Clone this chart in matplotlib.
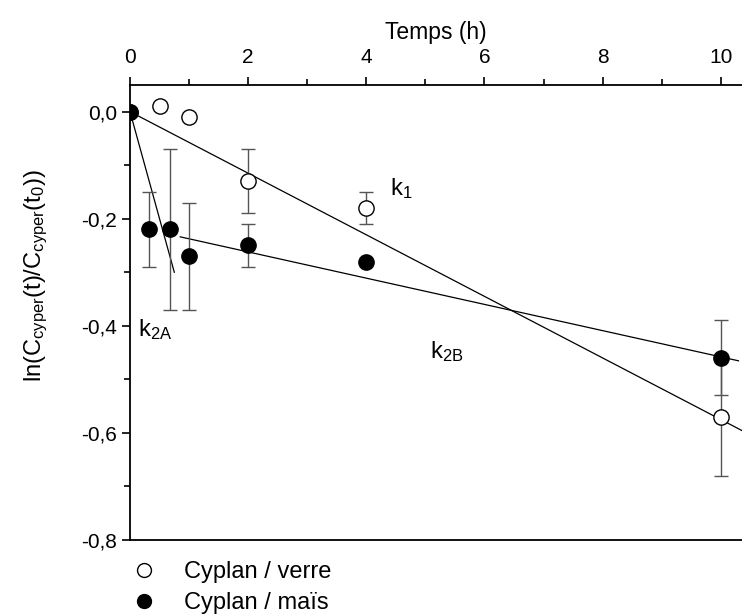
import numpy as np
import matplotlib.pyplot as plt
from matplotlib.lines import Line2D

plt.rcParams['font.family'] = ['Liberation Sans', 'DejaVu Sans']
plt.rcParams['mathtext.default'] = 'regular'

# Cyplan / verre
t_verre = [0, 0.5, 1, 2, 4, 10]
y_verre = [0.0, 0.01, -0.01, -0.13, -0.18, -0.57]
err_verre = [0, 0, 0, 0.06, 0.03, 0.11]

# Cyplan / maïs
t_mais = [0, 0.33, 0.67, 1, 2, 4, 10]
y_mais = [0.0, -0.22, -0.22, -0.27, -0.25, -0.28, -0.46]
err_mais = [0, 0.07, 0.15, 0.10, 0.04, 0, 0.07]

# droites ajustées : (pente, ordonnée, x début, x fin)
k1 = (-0.0575, 0.0, 0.0, 10.4)
k2a = (-0.40, 0.0, 0.0, 0.75)
k2b = (-0.0245, -0.213, 0.85, 10.3)

fig = plt.figure(figsize=(7.42, 6.15), dpi=100)
ax = fig.add_axes([0.1752, 0.122, 0.8248, 0.74])

for a, b, x0, x1 in [k1, k2a, k2b]:
    xx = np.array([x0, x1])
    ax.plot(xx, a * xx + b, color='black', lw=0.9)

ax.errorbar(t_verre, y_verre, yerr=err_verre, fmt='o', ms=11, mfc='white',
            mec='black', mew=1.0, ecolor='#555555', elinewidth=1.0, capsize=5,
            capthick=1.0, zorder=3)
ax.errorbar(t_mais, y_mais, yerr=err_mais, fmt='o', ms=11, mfc='black',
            mec='black', ecolor='#555555', elinewidth=1.0, capsize=5,
            capthick=1.0, zorder=4)

ax.text(4.4, -0.155, '$k_1$', fontsize=17)
ax.text(0.14, -0.42, '$k_{2A}$', fontsize=17)
ax.text(5.08, -0.46, '$k_{2B}$', fontsize=17)

ax.set_xlim(0, 10.36)
ax.set_ylim(-0.8, 0.05)
ax.xaxis.tick_top()
ax.xaxis.set_label_position('top')
ax.set_xticks([0, 2, 4, 6, 8, 10])
ax.set_xticks([1, 3, 5, 7, 9], minor=True)
ax.set_yticks([0, -0.2, -0.4, -0.6, -0.8])
ax.set_yticklabels(['0,0', '-0,2', '-0,4', '-0,6', '-0,8'])
ax.set_yticks([-0.1, -0.3, -0.5, -0.7], minor=True)
ax.tick_params(axis='both', which='major', direction='out', length=6, width=1.2,
               labelsize=15, colors='black')
ax.tick_params(axis='x', which='major', pad=7)
ax.tick_params(axis='both', which='minor', direction='out', length=4, width=1.2)
ax.spines['right'].set_visible(False)
for s in ['left', 'top', 'bottom']:
    ax.spines[s].set_linewidth(1.3)

ax.set_xlabel('Temps (h)', fontsize=16.5, labelpad=6)
ax.set_ylabel('ln(C$_{cyper}$(t)/C$_{cyper}$(t$_0$))', fontsize=17)
ax.yaxis.set_label_coords(-0.13, 0.58)

handles = [Line2D([], [], ls='none', marker='o', ms=10, mfc='white', mec='black'),
           Line2D([], [], ls='none', marker='o', ms=10, mfc='black', mec='black')]
ax.legend(handles, ['Cyplan / verre', 'Cyplan / maïs'], loc='upper left',
          bbox_to_anchor=(-0.012, -0.025), frameon=False, fontsize=17,
          handlelength=1.0, handletextpad=1.2, labelspacing=0.38, borderaxespad=0)

fig.savefig('out.png', dpi=100)
